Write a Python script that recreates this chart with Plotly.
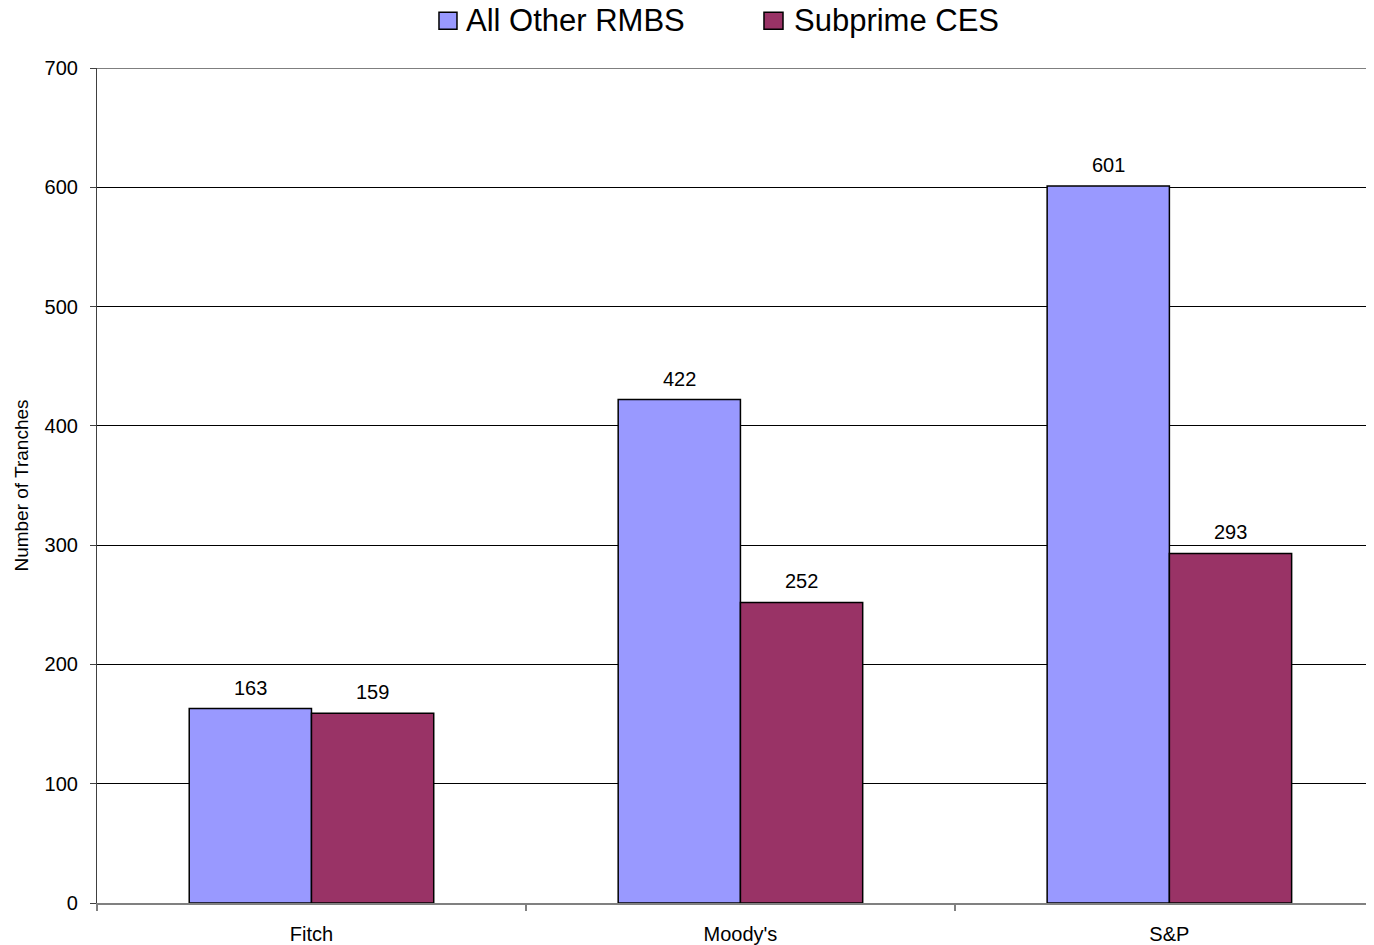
import plotly.graph_objects as go

categories = ["Fitch", "Moody's", "S&P"]
series_names = ["All Other RMBS", "Subprime CES"]
all_other_rmbs = [163, 422, 601]
subprime_ces = [159, 252, 293]
y_ticks = [0, 100, 200, 300, 400, 500, 600, 700]

BLUE = "#9999FF"
RED = "#993366"
FONT = "Arial, Liberation Sans, sans-serif"
W = 0.285
xs = list(range(len(categories)))

fig = go.Figure()
fig.add_trace(go.Bar(name=series_names[0], x=xs, y=all_other_rmbs, width=W, offset=-W,
                     marker=dict(color=BLUE, line=dict(color="black", width=1.5))))
fig.add_trace(go.Bar(name=series_names[1], x=xs, y=subprime_ces, width=W, offset=0,
                     marker=dict(color=RED, line=dict(color="black", width=1.5))))

for series, off in ((all_other_rmbs, -W / 2), (subprime_ces, W / 2)):
    for i, v in enumerate(series):
        fig.add_annotation(x=i + off, y=v, text=str(v), showarrow=False,
                           yanchor="bottom", yshift=8,
                           font=dict(family=FONT, size=20, color="black"))

# top gridline at 700
fig.add_shape(type="line", xref="paper", yref="y", x0=0, x1=1, y0=700, y1=700,
              line=dict(color="black", width=1))

# custom legend (larger swatches like the reference)
legend_items = [
    (series_names[0], BLUE, 0.2678, 0.2819, 0.2873),
    (series_names[1], RED, 0.5223, 0.5372, 0.5442),
]
for name, col, sx0, sx1, tx in legend_items:
    fig.add_shape(type="rect", xref="paper", yref="paper", x0=sx0, x1=sx1,
                  y0=1.0465, y1=1.0667, fillcolor=col, line=dict(color="black", width=1.5))
    fig.add_annotation(xref="paper", yref="paper", x=tx, y=1.0572, xanchor="left",
                       yanchor="middle", text=name, showarrow=False,
                       font=dict(family=FONT, size=31, color="black"))

fig.update_layout(
    width=1366, height=937,
    margin=dict(l=89, r=0, t=60, b=38),
    plot_bgcolor="white", paper_bgcolor="white",
    font=dict(family=FONT, color="black"),
    showlegend=False,
    xaxis=dict(range=[-0.5, 2.477], tickmode="array", tickvals=xs, ticktext=categories,
               ticks="", showline=True, linecolor="#808080", linewidth=1.5,
               showgrid=False, tickfont=dict(size=20), zeroline=False,
               ticklabelstandoff=12,
               minor=dict(tickmode="array", tickvals=[-0.5, 0.5, 1.5], ticks="outside",
                          ticklen=6, tickcolor="#808080", tickwidth=1.5, showgrid=False)),
    yaxis=dict(range=[0, 700], tickvals=y_ticks, ticks="outside", ticklen=6,
               tickcolor="#404040", showline=True, linecolor="#404040", linewidth=1.2,
               showgrid=True, gridcolor="black", gridwidth=1, zeroline=False,
               tickfont=dict(size=20), ticklabelstandoff=8,
               title=dict(text="Number of Tranches", font=dict(size=19), standoff=10)),
)

fig.write_html("out.html")
